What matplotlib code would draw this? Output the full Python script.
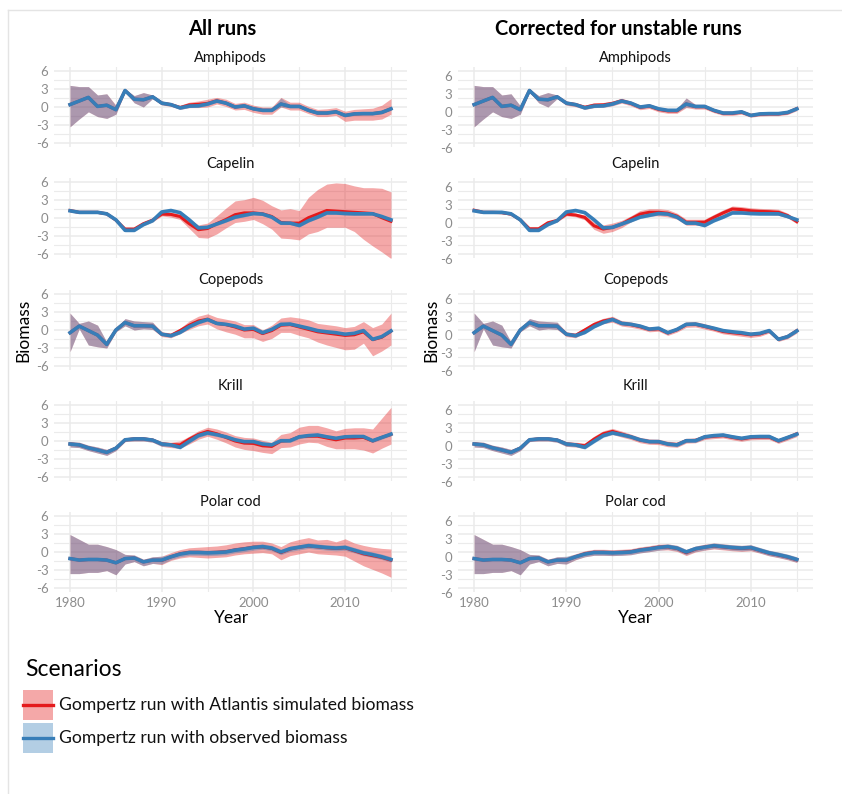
import numpy as np
import matplotlib
matplotlib.use("Agg")
import matplotlib.pyplot as plt
import matplotlib.transforms as mtransforms
from matplotlib.patches import Rectangle
from matplotlib.lines import Line2D

plt.rcParams["font.family"] = ["Lato", "DejaVu Sans"]

YEARS = np.arange(1980, 2016)
SPECIES = ["Amphipods", "Capelin", "Copepods", "Krill", "Polar cod"]
COLUMN_TITLES = ["All runs", "Corrected for unstable runs"]
SCENARIOS = ["Gompertz run with Atlantis simulated biomass",
             "Gompertz run with observed biomass"]

# ---- Gompertz run with observed biomass (same in both columns): mean, lower, upper
AMPH_OBS = [0.4, 1.0, 1.6, 0.1, 0.3, -0.45, 2.75, 1.3, 1.2, 1.7, 0.65, 0.4, -0.15, 0.15, 0.2, 0.5, 1.0, 0.65,
            0.0, 0.2, -0.3, -0.55, -0.55, 0.5, 0.1, 0.1, -0.55, -1.0, -1.0, -0.8, -1.4, -1.15, -1.1, -1.1, -0.9, -0.3]
AMPH_OBS_LO = [-3.3, -2.0, -0.8, -1.6, -1.9, -1.2, 2.5, 0.7, 0.0, 1.4, 0.35, 0.15, -0.4, -0.1, -0.05, 0.25, 0.75, 0.4,
               -0.25, -0.05, -0.55, -0.8, -0.8, 0.0, -0.15, -0.15, -0.8, -1.25, -1.25, -1.05, -1.65, -1.4, -1.35, -1.35, -1.15, -0.55]
AMPH_OBS_HI = [3.6, 3.4, 3.4, 2.0, 2.2, 0.2, 3.0, 1.9, 2.4, 2.0, 0.95, 0.65, 0.1, 0.4, 0.45, 0.75, 1.25, 0.9,
               0.25, 0.45, -0.05, -0.3, -0.3, 1.5, 0.35, 0.35, -0.3, -0.75, -0.75, -0.55, -1.15, -0.9, -0.85, -0.85, -0.65, -0.05]
CAP_OBS = [1.2, 0.95, 0.95, 0.95, 0.7, -0.3, -2.05, -2.05, -1.1, -0.45, 1.0, 1.25, 0.9, -0.3, -1.65, -1.55, -1.0, -0.45,
           0.15, 0.45, 0.75, 0.65, 0.15, -0.85, -0.85, -1.25, -0.45, 0.15, 0.85, 0.85, 0.75, 0.7, 0.7, 0.7, 0.25, -0.3]
CAP_OBS_LO = [0.95, 0.7, 0.7, 0.7, 0.45, -0.55, -2.3, -2.3, -1.35, -0.7, 0.75, 1.0, 0.65, -0.55, -1.9, -1.8, -1.25, -0.7,
              -0.1, 0.2, 0.5, 0.4, -0.1, -1.1, -1.1, -1.5, -0.7, -0.1, 0.6, 0.6, 0.5, 0.45, 0.45, 0.45, 0.0, -0.55]
CAP_OBS_HI = [1.45, 1.2, 1.2, 1.2, 0.95, -0.05, -1.8, -1.8, -0.85, -0.2, 1.25, 1.5, 1.15, -0.05, -1.4, -1.3, -0.75, -0.2,
              0.4, 0.7, 1.0, 0.9, 0.4, -0.6, -0.6, -1.0, -0.2, 0.4, 1.1, 1.1, 1.0, 0.95, 0.95, 0.95, 0.5, -0.05]
COP_OBS = [-0.45, 0.65, -0.1, -0.85, -2.4, 0.0, 1.25, 0.7, 0.7, 0.65, -0.7, -0.95, -0.4, 0.55, 1.25, 1.75, 1.1, 0.95,
           0.65, 0.15, 0.3, -0.45, 0.1, 0.95, 1.0, 0.65, 0.3, -0.1, -0.3, -0.45, -0.7, -0.55, -0.1, -1.55, -1.1, -0.15]
COP_OBS_LO = [-3.6, 0.2, -2.5, -2.8, -3.0, -0.3, 0.7, 0.0, 0.2, 0.1, -0.95, -1.2, -0.65, 0.3, 1.0, 1.5, 0.85, 0.7,
              0.4, -0.1, 0.05, -0.7, -0.15, 0.7, 0.75, 0.4, 0.05, -0.35, -0.55, -0.7, -0.95, -0.8, -0.35, -1.8, -1.35, -0.4]
COP_OBS_HI = [2.8, 1.1, 1.5, 0.8, -2.0, 0.2, 1.9, 1.5, 1.4, 1.3, -0.45, -0.7, -0.15, 0.8, 1.5, 2.0, 1.35, 1.2,
              0.9, 0.4, 0.55, -0.2, 0.35, 1.2, 1.25, 0.9, 0.55, 0.15, -0.05, -0.2, -0.45, -0.3, 0.15, -1.3, -0.85, 0.1]
KRILL_OBS = [-0.5, -0.65, -1.15, -1.5, -1.9, -1.2, 0.2, 0.35, 0.35, 0.15, -0.5, -0.65, -1.05, -0.05, 0.9, 1.35, 1.05, 0.7,
             0.2, -0.1, -0.1, -0.5, -0.65, 0.05, 0.05, 0.7, 0.9, 1.0, 0.7, 0.45, 0.7, 0.75, 0.75, 0.05, 0.6, 1.15]
KRILL_OBS_LO = [-1.0, -1.1, -1.6, -2.0, -2.4, -1.6, -0.1, 0.0, 0.0, -0.2, -0.9, -0.95, -1.35, -0.35, 0.6, 1.05, 0.75, 0.4,
                -0.1, -0.4, -0.4, -0.8, -0.95, -0.25, -0.25, 0.4, 0.6, 0.7, 0.4, 0.15, 0.4, 0.45, 0.45, -0.25, 0.3, 0.85]
KRILL_OBS_HI = [-0.1, -0.2, -0.7, -1.0, -1.4, -0.8, 0.5, 0.7, 0.7, 0.5, -0.1, -0.35, -0.75, 0.25, 1.2, 1.65, 1.35, 1.0,
                0.5, 0.2, 0.2, -0.2, -0.35, 0.35, 0.35, 1.0, 1.2, 1.3, 1.0, 0.75, 1.0, 1.05, 1.05, 0.35, 0.9, 1.45]
COD_OBS = [-1.1, -1.35, -1.25, -1.25, -1.35, -1.8, -1.1, -1.0, -1.65, -1.35, -1.35, -0.8, -0.35, -0.1, -0.1, -0.15, -0.1, 0.0,
           0.3, 0.5, 0.75, 0.9, 0.65, 0.0, 0.55, 0.8, 1.05, 0.9, 0.75, 0.65, 0.75, 0.3, -0.15, -0.45, -0.8, -1.25]
COD_OBS_LO = [-3.6, -3.6, -3.4, -3.4, -3.1, -3.8, -2.0, -1.6, -2.3, -1.9, -2.0, -1.25, -0.8, -0.55, -0.55, -0.6, -0.55, -0.45,
              -0.15, 0.05, 0.3, 0.45, 0.2, -0.45, 0.1, 0.35, 0.6, 0.45, 0.3, 0.2, 0.3, -0.15, -0.6, -0.9, -1.25, -1.7]
COD_OBS_HI = [2.9, 2.1, 1.3, 1.3, 0.9, 0.4, -0.4, -0.5, -1.2, -0.8, -0.7, -0.35, 0.1, 0.35, 0.35, 0.3, 0.35, 0.45,
              0.75, 0.95, 1.2, 1.35, 1.1, 0.45, 1.0, 1.25, 1.5, 1.35, 1.2, 1.1, 1.2, 0.75, 0.3, 0.0, -0.35, -0.8]

# ---- Gompertz run with Atlantis simulated biomass, all runs: mean, lower, upper
AMPH_SIM = [0.4, 1.0, 1.6, 0.1, 0.3, -0.45, 2.75, 1.3, 1.2, 1.7, 0.65, 0.4, -0.1, 0.35, 0.45, 0.6, 1.05, 0.65,
            0.0, 0.2, -0.3, -0.55, -0.55, 0.5, 0.1, 0.1, -0.55, -1.0, -1.0, -0.8, -1.4, -1.15, -1.1, -1.1, -0.9, -0.3]
AMPH_SIM_LO = [-3.3, -2.0, -0.8, -1.6, -1.9, -1.2, 2.5, 0.7, 0.0, 1.4, 0.35, 0.1, -0.4, -0.1, -0.1, 0.0, 0.5, 0.1,
               -0.5, -0.4, -0.9, -1.2, -1.2, 0.0, -0.5, -0.5, -1.1, -1.6, -1.6, -1.4, -2.4, -2.2, -2.2, -2.2, -2.0, -1.2]
AMPH_SIM_HI = [3.6, 3.4, 3.4, 2.0, 2.2, 0.3, 3.0, 1.9, 2.4, 2.0, 0.95, 0.7, 0.3, 0.8, 1.0, 1.3, 1.6, 1.3,
               0.6, 0.8, 0.3, 0.0, 0.0, 1.6, 0.8, 0.8, 0.1, -0.4, -0.3, -0.1, -0.7, -0.4, -0.3, -0.2, 0.3, 1.4]
CAP_SIM = [1.25, 0.95, 0.95, 0.95, 0.7, -0.35, -1.85, -1.85, -0.95, -0.35, 0.65, 0.6, 0.25, -0.95, -1.95, -1.75, -0.95, -0.25,
           0.55, 0.85, 0.85, 0.7, 0.25, -0.75, -0.85, -0.85, 0.05, 0.65, 1.25, 1.15, 1.05, 0.95, 0.85, 0.75, 0.05, -0.55]
CAP_SIM_LO = [1.0, 0.75, 0.75, 0.75, 0.5, -0.55, -2.25, -2.15, -1.25, -0.65, 0.35, 0.15, -0.25, -1.75, -3.25, -3.35, -2.65, -1.65,
              -0.75, -0.55, -0.25, -0.95, -1.85, -3.35, -3.45, -3.65, -2.65, -2.25, -1.55, -1.55, -1.55, -2.25, -3.55, -4.65, -5.65, -6.75]
CAP_SIM_HI = [1.45, 1.15, 1.15, 1.15, 0.9, -0.15, -1.55, -1.55, -0.65, -0.05, 1.05, 0.95, 0.65, -0.25, -1.15, -0.85, 0.35, 1.65,
              2.85, 3.05, 3.45, 2.95, 2.05, 1.35, 1.55, 1.25, 3.45, 4.75, 5.65, 5.85, 5.75, 5.35, 5.05, 5.05, 4.95, 4.35]
COP_SIM = [-0.45, 0.65, -0.1, -0.85, -2.4, 0.0, 1.25, 0.7, 0.7, 0.65, -0.7, -0.9, -0.1, 0.8, 1.5, 1.8, 1.1, 0.9,
           0.5, 0.0, 0.1, -0.6, -0.1, 0.8, 0.9, 0.5, 0.1, -0.3, -0.5, -0.7, -0.9, -0.8, -0.3, -1.6, -1.2, -0.2]
COP_SIM_LO = [-3.6, 0.2, -2.5, -2.8, -3.0, -0.3, 0.7, 0.0, 0.2, 0.1, -1.1, -1.3, -0.6, 0.1, 0.7, 1.0, 0.2, -0.3,
              -0.7, -1.3, -1.3, -1.9, -1.4, -0.4, -0.4, -0.9, -1.3, -2.0, -2.5, -2.9, -3.3, -3.2, -2.2, -4.3, -3.5, -2.5]
COP_SIM_HI = [2.8, 1.1, 1.5, 0.8, -2.0, 0.2, 1.9, 1.5, 1.4, 1.3, -0.3, -0.5, 0.3, 1.5, 2.3, 2.7, 2.1, 1.8,
              1.5, 0.9, 0.9, 0.0, 0.8, 2.0, 2.2, 2.0, 1.7, 1.1, 0.9, 0.7, 0.4, 0.6, 1.4, 0.4, 1.0, 2.8]
KRILL_SIM = [-0.5, -0.65, -1.15, -1.5, -1.9, -1.2, 0.2, 0.35, 0.35, 0.15, -0.5, -0.6, -0.65, 0.3, 1.1, 1.6, 1.2, 0.6,
             0.0, -0.35, -0.4, -0.8, -0.9, 0.0, 0.1, 0.7, 0.8, 0.8, 0.5, 0.2, 0.5, 0.5, 0.6, 0.0, 0.6, 1.1]
KRILL_SIM_LO = [-1.0, -1.1, -1.6, -2.0, -2.4, -1.6, -0.1, 0.0, 0.0, -0.2, -0.9, -1.1, -1.2, -0.5, 0.3, 0.8, 0.3, -0.3,
                -1.0, -1.4, -1.6, -1.9, -2.1, -1.1, -1.0, -0.5, -0.2, -0.3, -0.9, -1.3, -1.3, -1.3, -1.5, -2.0, -1.2, -0.5]
KRILL_SIM_HI = [-0.1, -0.2, -0.7, -1.0, -1.4, -0.8, 0.5, 0.7, 0.7, 0.5, -0.1, -0.2, 0.0, 0.8, 1.7, 2.3, 2.0, 1.5,
                0.9, 0.6, 0.5, 0.1, -0.2, 1.1, 1.4, 2.3, 2.6, 2.6, 2.2, 1.7, 2.1, 2.2, 2.2, 2.0, 3.8, 5.6]
COD_SIM = [-1.1, -1.35, -1.25, -1.25, -1.35, -1.8, -1.1, -1.0, -1.65, -1.35, -1.4, -0.8, -0.3, -0.05, -0.05, -0.1, -0.05, 0.05,
           0.35, 0.55, 0.8, 0.85, 0.6, -0.1, 0.5, 0.8, 1.0, 0.85, 0.7, 0.6, 0.7, 0.2, -0.3, -0.6, -0.9, -1.35]
COD_SIM_LO = [-3.6, -3.6, -3.4, -3.4, -3.1, -3.8, -2.0, -1.6, -2.3, -1.9, -2.1, -1.4, -1.0, -0.8, -0.9, -1.0, -0.9, -0.8,
              -0.5, -0.3, -0.2, -0.1, -0.3, -1.3, -0.6, -0.3, 0.0, -0.3, -0.4, -0.5, -0.7, -1.5, -2.3, -2.9, -3.5, -4.2]
COD_SIM_HI = [2.9, 2.1, 1.3, 1.3, 0.9, 0.4, -0.4, -0.5, -1.2, -0.8, -0.7, -0.1, 0.4, 0.7, 0.8, 0.9, 1.0, 1.2,
              1.5, 1.7, 1.8, 1.8, 1.5, 0.9, 1.7, 2.1, 2.4, 2.0, 2.1, 1.7, 2.2, 1.5, 1.1, 0.8, 0.6, 0.5]

# ---- Gompertz run with Atlantis simulated biomass, unstable runs removed: mean, lower, upper
AMPH_COR = [0.4, 1.0, 1.6, 0.1, 0.3, -0.45, 2.75, 1.3, 1.2, 1.7, 0.65, 0.4, -0.05, 0.3, 0.35, 0.6, 1.05, 0.6,
            -0.05, 0.15, -0.4, -0.65, -0.65, 0.5, 0.05, 0.05, -0.6, -1.05, -1.05, -0.85, -1.4, -1.2, -1.15, -1.15, -0.95, -0.25]
AMPH_COR_LO = [-3.3, -2.0, -0.8, -1.6, -1.9, -1.2, 2.5, 0.7, 0.0, 1.4, 0.3, 0.05, -0.4, -0.1, -0.05, 0.2, 0.65, 0.2,
               -0.45, -0.25, -0.8, -1.05, -1.05, -0.1, -0.35, -0.35, -0.95, -1.4, -1.4, -1.2, -1.7, -1.5, -1.45, -1.45, -1.25, -0.6]
AMPH_COR_HI = [3.6, 3.4, 3.4, 2.0, 2.2, 0.2, 3.0, 1.9, 2.4, 2.0, 1.0, 0.75, 0.3, 0.7, 0.75, 1.0, 1.45, 1.0,
               0.35, 0.55, 0.0, -0.25, -0.25, 1.5, 0.45, 0.45, -0.25, -0.7, -0.7, -0.5, -1.1, -0.9, -0.85, -0.85, -0.65, 0.1]
CAP_COR = [1.3, 0.95, 0.95, 0.9, 0.65, -0.3, -1.8, -1.8, -0.8, -0.4, 0.65, 0.5, 0.1, -1.3, -1.85, -1.55, -1.0, -0.15,
           0.65, 0.95, 0.95, 0.8, 0.3, -0.7, -0.7, -0.7, 0.1, 0.85, 1.5, 1.4, 1.2, 1.1, 1.05, 0.95, 0.4, -0.6]
CAP_COR_LO = [1.1, 0.75, 0.75, 0.7, 0.45, -0.5, -2.05, -2.05, -1.05, -0.65, 0.35, 0.2, -0.3, -1.9, -2.55, -2.25, -1.6, -0.65,
              0.05, 0.35, 0.35, 0.2, -0.2, -1.2, -1.2, -1.2, -0.4, 0.35, 1.0, 0.9, 0.7, 0.6, 0.55, 0.45, 0.0, -0.95]
CAP_COR_HI = [1.5, 1.15, 1.15, 1.1, 0.85, -0.1, -1.55, -1.55, -0.55, -0.15, 0.95, 0.8, 0.5, -0.7, -1.15, -0.85, -0.4, 0.35,
              1.25, 1.55, 1.55, 1.4, 0.8, -0.2, -0.2, -0.2, 0.6, 1.35, 2.0, 1.9, 1.7, 1.6, 1.55, 1.45, 0.8, -0.25]
COP_COR = [-0.45, 0.65, -0.1, -0.85, -2.4, 0.0, 1.25, 0.7, 0.7, 0.65, -0.7, -0.9, 0.0, 0.9, 1.5, 1.8, 1.1, 0.9,
           0.55, 0.1, 0.2, -0.5, 0.05, 0.9, 0.95, 0.6, 0.2, -0.25, -0.45, -0.6, -0.8, -0.65, -0.15, -1.55, -1.1, -0.1]
COP_COR_LO = [-3.6, 0.2, -2.5, -2.8, -3.0, -0.3, 0.7, 0.0, 0.2, 0.1, -1.1, -1.3, -0.4, 0.45, 1.05, 1.3, 0.65, 0.45,
              0.15, -0.3, -0.2, -0.9, -0.35, 0.45, 0.5, 0.15, -0.2, -0.65, -0.85, -1.05, -1.25, -1.05, -0.5, -1.9, -1.45, -0.5]
COP_COR_HI = [2.8, 1.1, 1.5, 0.8, -2.0, 0.2, 1.9, 1.5, 1.4, 1.3, -0.3, -0.5, 0.4, 1.35, 1.95, 2.3, 1.55, 1.35,
              0.95, 0.5, 0.6, -0.1, 0.45, 1.35, 1.4, 1.05, 0.6, 0.15, -0.05, -0.15, -0.35, -0.25, 0.2, -1.2, -0.75, 0.3]
KRILL_COR = [-0.5, -0.65, -1.15, -1.5, -1.9, -1.2, 0.2, 0.35, 0.35, 0.15, -0.5, -0.6, -0.8, 0.3, 1.2, 1.6, 1.15, 0.7,
             0.15, -0.1, -0.15, -0.5, -0.6, 0.05, 0.1, 0.65, 0.8, 0.9, 0.6, 0.35, 0.6, 0.65, 0.65, 0.0, 0.55, 1.2]
KRILL_COR_LO = [-1.0, -1.1, -1.6, -2.0, -2.4, -1.6, -0.1, 0.0, 0.0, -0.2, -0.9, -1.0, -1.25, -0.2, 0.7, 1.1, 0.65, 0.25,
                -0.3, -0.55, -0.6, -0.95, -1.05, -0.35, -0.3, 0.25, 0.4, 0.5, 0.2, -0.05, 0.2, 0.25, 0.25, -0.4, 0.15, 0.75]
KRILL_COR_HI = [-0.1, -0.2, -0.7, -1.0, -1.4, -0.8, 0.5, 0.7, 0.7, 0.5, -0.1, -0.2, -0.35, 0.8, 1.7, 2.1, 1.65, 1.15,
                0.6, 0.35, 0.3, -0.05, -0.15, 0.45, 0.5, 1.05, 1.2, 1.3, 1.0, 0.75, 1.0, 1.05, 1.05, 0.4, 0.95, 1.65]
COD_COR = [-1.1, -1.35, -1.25, -1.25, -1.35, -1.8, -1.1, -1.0, -1.65, -1.35, -1.4, -0.8, -0.3, -0.05, -0.05, -0.1, -0.05, 0.05,
           0.35, 0.55, 0.8, 0.85, 0.6, -0.1, 0.5, 0.8, 1.0, 0.85, 0.7, 0.6, 0.7, 0.25, -0.2, -0.5, -0.85, -1.3]
COD_COR_LO = [-3.6, -3.6, -3.4, -3.4, -3.1, -3.8, -2.0, -1.6, -2.3, -1.9, -2.0, -1.3, -0.8, -0.55, -0.55, -0.6, -0.55, -0.45,
              -0.15, 0.05, 0.3, 0.35, 0.1, -0.6, 0.0, 0.3, 0.5, 0.35, 0.2, 0.1, 0.2, -0.2, -0.65, -0.95, -1.3, -1.75]
COD_COR_HI = [2.9, 2.1, 1.3, 1.3, 0.9, 0.4, -0.4, -0.5, -1.2, -0.8, -0.8, -0.3, 0.2, 0.45, 0.45, 0.4, 0.45, 0.55,
              0.85, 1.05, 1.3, 1.35, 1.1, 0.4, 1.0, 1.3, 1.5, 1.35, 1.2, 1.1, 1.2, 0.7, 0.25, -0.05, -0.4, -0.85]

OBS = [(AMPH_OBS, AMPH_OBS_LO, AMPH_OBS_HI), (CAP_OBS, CAP_OBS_LO, CAP_OBS_HI),
       (COP_OBS, COP_OBS_LO, COP_OBS_HI), (KRILL_OBS, KRILL_OBS_LO, KRILL_OBS_HI),
       (COD_OBS, COD_OBS_LO, COD_OBS_HI)]
SIM = [
    [(AMPH_SIM, AMPH_SIM_LO, AMPH_SIM_HI), (CAP_SIM, CAP_SIM_LO, CAP_SIM_HI),
     (COP_SIM, COP_SIM_LO, COP_SIM_HI), (KRILL_SIM, KRILL_SIM_LO, KRILL_SIM_HI),
     (COD_SIM, COD_SIM_LO, COD_SIM_HI)],
    [(AMPH_COR, AMPH_COR_LO, AMPH_COR_HI), (CAP_COR, CAP_COR_LO, CAP_COR_HI),
     (COP_COR, COP_COR_LO, COP_COR_HI), (KRILL_COR, KRILL_COR_LO, KRILL_COR_HI),
     (COD_COR, COD_COR_LO, COD_COR_HI)],
]

RED = "#E41A1C"
BLUE = "#377EB8"
FILL_ALPHA = 0.38
GRID = "#EBEBEB"
TICK_GREY = "#8C8C8C"

W, H = 842, 794
fig = plt.figure(figsize=(W / 100, H / 100), dpi=100)


def fx(x):
    return x / W


def fy(y):
    return 1 - y / H


def axes_px(x0, x1, y0, y1):
    return fig.add_axes([fx(x0), fy(y1), (x1 - x0) / W, (y1 - y0) / H])


# light card outline
fig.add_artist(Line2D([fx(8), fx(8)], [fy(10), 0], color="#E4E4E4", lw=1.0))
fig.add_artist(Line2D([fx(8), 1], [fy(10), fy(10)], color="#E4E4E4", lw=1.0))

COL_X = [(54, 407), (458, 813)]
ROW_Y6 = [71, 182, 294, 405, 516]
TITLE_BASELINE = [62, 168, 284, 390, 506]
UNIT = 6.0  # pixels per biomass unit

for c in range(2):
    x0, x1 = COL_X[c]
    for r, name in enumerate(SPECIES):
        y6 = ROW_Y6[r]
        ax = axes_px(x0, x1, y6 - 0.6 * UNIT, y6 + 12.6 * UNIT)
        ax.set_xlim(1978.25, 2016.75)
        ax.set_ylim(-6.6, 6.6)
        for s in ax.spines.values():
            s.set_visible(False)
        ax.set_xticks([1980, 1990, 2000, 2010])
        ax.set_xticks([1985, 1995, 2005, 2015], minor=True)
        ax.set_yticks([-6, -3, 0, 3, 6])
        ax.set_yticks([-4.5, -1.5, 1.5, 4.5], minor=True)
        ax.grid(True, which="major", color=GRID, lw=1.1)
        ax.grid(True, which="minor", color=GRID, lw=0.8)
        ax.set_axisbelow(True)
        ax.tick_params(which="both", length=0, labelsize=9.5, labelcolor=TICK_GREY, pad=4)
        ax.set_yticklabels(["-6", "-3", "0", "3", "6"])
        if r == len(SPECIES) - 1:
            ax.set_xticklabels(["1980", "1990", "2000", "2010"])
        else:
            ax.set_xticklabels([])
        if c == 1:
            shift = mtransforms.ScaledTranslation(0, -5 / 100, fig.dpi_scale_trans)
            for t in ax.get_yticklabels():
                t.set_transform(t.get_transform() + shift)

        obs_mean, obs_lo, obs_hi = OBS[r]
        sim_mean, sim_lo, sim_hi = SIM[c][r]

        ax.fill_between(YEARS, sim_lo, sim_hi, color=RED, alpha=FILL_ALPHA, lw=0)
        ax.fill_between(YEARS, obs_lo, obs_hi, color=BLUE, alpha=FILL_ALPHA, lw=0)
        ax.plot(YEARS, sim_mean, color=RED, lw=2.2, solid_joinstyle="round")
        ax.plot(YEARS, obs_mean, color=BLUE, lw=2.6, solid_joinstyle="round")

        fig.text(fx((x0 + x1) / 2), fy(TITLE_BASELINE[r]), name, ha="center", va="baseline",
                 fontsize=10.5, color="#111111")

# column headings and axis titles
fig.text(fx(222), fy(35), COLUMN_TITLES[0], ha="center", va="baseline",
         fontsize=14.5, fontweight="bold", color="black")
fig.text(fx(618), fy(35), COLUMN_TITLES[1], ha="center", va="baseline",
         fontsize=14.5, fontweight="bold", color="black")
for xc in (231, 636):
    fig.text(fx(xc), fy(618), "Year", ha="center", va="center", fontsize=12.5, color="black")
for xb in (23, 431):
    fig.text(fx(xb), fy(330), "Biomass", ha="center", va="center", rotation=90,
             fontsize=12.5, color="black")

# legend
fig.text(fx(25), fy(676), "Scenarios", ha="left", va="baseline", fontsize=16.5, color="black")
for i, (col, label) in enumerate(zip([RED, BLUE], SCENARIOS)):
    top = 690 + i * 33
    fig.add_artist(Rectangle((fx(23), fy(top + 30)), 30 / W, 30 / H,
                             facecolor=col, alpha=FILL_ALPHA, lw=0))
    fig.add_artist(Line2D([fx(23), fx(53)], [fy(top + 15), fy(top + 15)],
                          color=col, lw=2.4))
    fig.text(fx(59), fy(top + 15), label, ha="left", va="center", fontsize=12.6, color="#111111")

fig.savefig("out.png", dpi=100, facecolor="white")
